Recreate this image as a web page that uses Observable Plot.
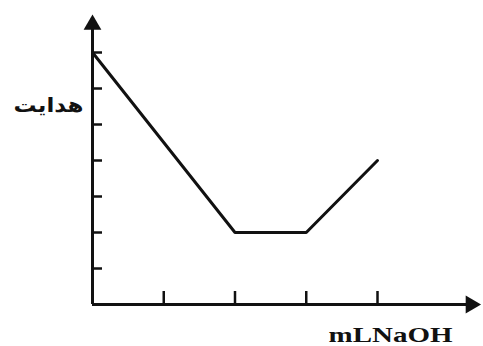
<!DOCTYPE html>
<html><head><meta charset="utf-8">
<script src="https://cdn.jsdelivr.net/npm/d3@7"></script>
<script src="https://cdn.jsdelivr.net/npm/@observablehq/plot@0.6"></script>
<style>html,body{margin:0;padding:0;background:#fff}</style>
</head><body><div id="chart"></div>
<script>
// data
const volumes = [0, 2, 3, 4];          // mL NaOH (tick units)
const conductance = [7, 2, 2, 4];      // conductance (tick units)
const xTicks = [1, 2, 3, 4];
const yTicks = [1, 2, 3, 4, 5, 6, 7];
const yLabel = "هدایت";
const xLabel = "mLNaOH";
const xAxisEnd = 5.45;   // where the x-axis arrow tip sits
const yAxisEnd = 8.05;   // where the y-axis arrow tip sits

const points = volumes.map((v, i) => ({x: v, y: conductance[i]}));
const ink = "#111";

const chart = Plot.plot({
  width: 483, height: 346,
  marginLeft: 92, marginRight: 106, marginTop: 52, marginBottom: 42,
  x: {domain: [0, 4], axis: null},
  y: {domain: [0, 7], axis: null},
  style: {background: "#fff", color: ink},
  marks: [
    Plot.axisY(yTicks, {anchor: "left", tickSize: 10, dx: 10, tickFormat: () => "", label: null, strokeWidth: 2.5, stroke: ink}),
    Plot.axisX(xTicks, {anchor: "bottom", tickSize: 13, dy: -13, tickFormat: () => "", label: null, strokeWidth: 2.5, stroke: ink}),
    Plot.ruleX([0], {x: d => d, y1: 0, y2: yAxisEnd - 0.3, strokeWidth: 3, stroke: ink}),
    Plot.ruleY([0], {y: d => d, x1: 0, x2: xAxisEnd - 0.15, strokeWidth: 3, stroke: ink}),
    Plot.dot([0], {x: 0, y: yAxisEnd, symbol: "triangle", r: 6.6, fill: ink, stroke: null, dy: 10}),
    Plot.dot([0], {x: xAxisEnd, y: 0, symbol: "triangle", r: 6.6, fill: ink, stroke: null, rotate: 90, dx: -10}),
    Plot.line(points, {x: "x", y: "y", stroke: ink, strokeWidth: 3, strokeLinejoin: "miter"}),
    Plot.text([yLabel], {frameAnchor: "top-left", dx: -44, dy: 53, text: d => d, textAnchor: "middle", lineAnchor: "middle", fontFamily: "DejaVu Sans", fontWeight: "bold", fontSize: 20, fill: ink, className: "ylab"}),
    Plot.text([xLabel], {frameAnchor: "bottom-right", dx: 75, dy: 30, text: d => d, textAnchor: "end", lineAnchor: "middle", fontFamily: "Liberation Serif", fontWeight: "bold", fontSize: 22, fill: ink, className: "xlab"})
  ]
});
document.getElementById("chart").appendChild(chart);
d3.select(chart).selectAll(".xlab text").attr("textLength", 124).attr("lengthAdjust", "spacingAndGlyphs");
d3.select(chart).selectAll(".ylab text").attr("textLength", 70).attr("lengthAdjust", "spacingAndGlyphs");
</script>
</body></html>
